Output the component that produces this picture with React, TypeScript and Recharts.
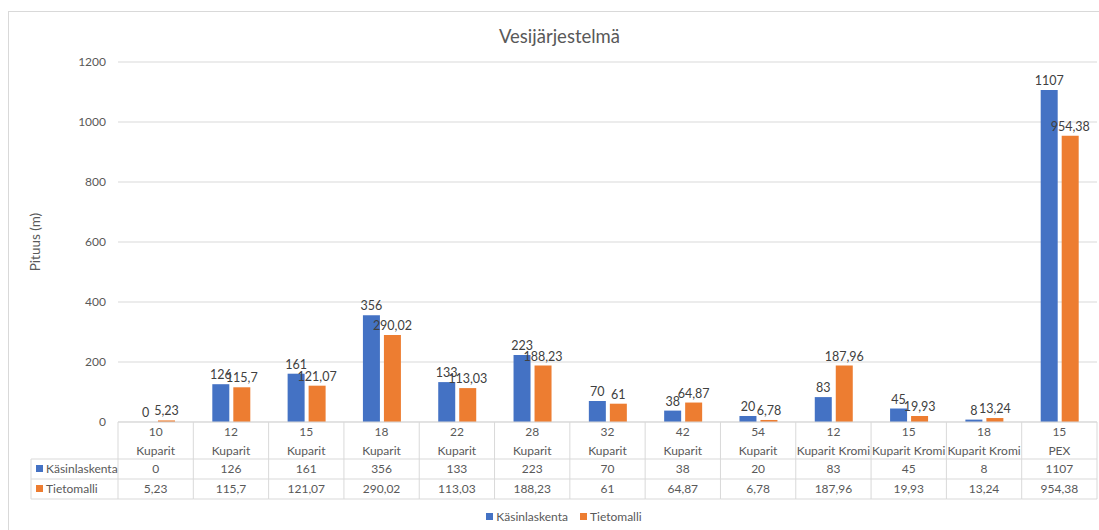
import React from 'react';
import { BarChart, Bar, XAxis, YAxis, CartesianGrid, LabelList, Legend } from 'recharts';

const sizes = ['10', '12', '15', '18', '22', '28', '32', '42', '54', '12', '15', '18', '15'];
const materials = ['Kuparit', 'Kuparit', 'Kuparit', 'Kuparit', 'Kuparit', 'Kuparit', 'Kuparit', 'Kuparit', 'Kuparit', 'Kuparit Kromi', 'Kuparit Kromi', 'Kuparit Kromi', 'PEX'];
const kasinlaskenta = [0, 126, 161, 356, 133, 223, 70, 38, 20, 83, 45, 8, 1107];
const tietomalli = [5.23, 115.7, 121.07, 290.02, 113.03, 188.23, 61, 64.87, 6.78, 187.96, 19.93, 13.24, 954.38];
const yTicks = [0, 200, 400, 600, 800, 1000, 1200];
const seriesNames = ['Käsinlaskenta', 'Tietomalli'];
const seriesColors = ['#4472C4', '#ED7D31'];
const title = 'Vesijärjestelmä';
const yLabel = 'Pituus (m)';

const data = sizes.map((s, i) => ({
  key: 'c' + i,
  size: s,
  material: materials[i],
  k: kasinlaskenta[i],
  t: tietomalli[i],
}));

const W = 1099;
const H = 530;
const M = { top: 62, right: 2, bottom: 0, left: 31 };
const Y_W = 87;
const X_H = 77;
const COL_W = (W - M.left - M.right - Y_W) / sizes.length;
const GRID = '#d9d9d9';
const TXT = '#595959';
const FONT = 'Lato, "Noto Sans", sans-serif';

const fmt = (v: any) => String(v).replace('.', ',');

function TableTick(props: any) {
  const { x, y, payload } = props;
  const i = props.index ?? payload.index;
  const left = x - COL_W / 2;
  const right = x + COL_W / 2;
  const last = i === sizes.length - 1;
  const vals = [kasinlaskenta[i], tietomalli[i]];
  return (
    <g>
      <line x1={left} y1={y} x2={left} y2={y + X_H} stroke={GRID} />
      {last && <line x1={right} y1={y} x2={right} y2={y + X_H} stroke={GRID} />}
      <line x1={left} y1={y + 37} x2={right} y2={y + 37} stroke={GRID} />
      <line x1={left} y1={y + 57} x2={right} y2={y + 57} stroke={GRID} />
      <line x1={left} y1={y + X_H} x2={right} y2={y + X_H} stroke={GRID} />
      <text x={x} y={y + 10} dy="0.35em" textAnchor="middle" fill={TXT} fontSize={12} fontFamily={FONT}>{sizes[i]}</text>
      <text x={x} y={y + 29} dy="0.35em" textAnchor="middle" fill={TXT} fontSize={12} fontFamily={FONT}>{materials[i]}</text>
      <text x={x} y={y + 47} dy="0.35em" textAnchor="middle" fill={TXT} fontSize={12} fontFamily={FONT}>{fmt(vals[0])}</text>
      <text x={x} y={y + 67} dy="0.35em" textAnchor="middle" fill={TXT} fontSize={12} fontFamily={FONT}>{fmt(vals[1])}</text>
      {i === 0 && (
        <g>
          <line x1={M.left} y1={y + 37} x2={left} y2={y + 37} stroke={GRID} />
          <line x1={M.left} y1={y + 57} x2={left} y2={y + 57} stroke={GRID} />
          <line x1={M.left} y1={y + X_H} x2={left} y2={y + X_H} stroke={GRID} />
          <line x1={M.left} y1={y + 37} x2={M.left} y2={y + X_H} stroke={GRID} />
          {seriesNames.map((n, si) => (
            <g key={n}>
              <rect x={M.left + 5} y={y + 43 + si * 20} width={7} height={7} fill={seriesColors[si]} />
              <text x={M.left + 15} y={y + 47 + si * 20} dy="0.35em" fill={TXT} fontSize={12} fontFamily={FONT}>{n}</text>
            </g>
          ))}
        </g>
      )}
    </g>
  );
}

function LegendContent() {
  return (
    <div style={{ display: 'flex', justifyContent: 'center', alignItems: 'center', height: 31, paddingTop: 4, boxSizing: 'border-box', fontFamily: FONT, fontSize: 12, color: TXT }}>
      {seriesNames.map((n, si) => (
        <div key={n} style={{ display: 'flex', alignItems: 'center', marginRight: si === 0 ? 12 : 0 }}>
          <div style={{ width: 7, height: 7, background: seriesColors[si], marginRight: 3 }} />
          <span>{n}</span>
        </div>
      ))}
    </div>
  );
}

const zeroMin = (v: any) => (v === 0 ? 0.01 : 0);

export default function App() {
  return (
    <div style={{ position: 'absolute', left: 0, top: 0, width: W, height: H, overflow: 'hidden', background: '#fff' }}>
      <div style={{ position: 'absolute', left: 8, top: 11, width: 1200, height: 700, border: `1px solid ${GRID}` }} />
      <div style={{ position: 'absolute', left: 0, top: 24, width: 1119, textAlign: 'center', fontFamily: FONT, fontSize: 18.5, color: TXT, lineHeight: '24px' }}>{title}</div>
      <div style={{ position: 'absolute', left: 0, top: 0 }}>
        <BarChart width={W} height={H} data={data} margin={M} barCategoryGap={19} barGap={4} style={{ fontFamily: FONT }}>
          <CartesianGrid vertical={false} stroke={GRID} />
          <XAxis
            dataKey="key"
            height={X_H}
            interval={0}
            tickSize={0}
            tickMargin={0}
            tickLine={false}
            axisLine={{ stroke: GRID }}
            tick={<TableTick />}
          />
          <YAxis
            width={Y_W}
            domain={[0, 1200]}
            ticks={yTicks}
            axisLine={false}
            tickLine={false}
            tickSize={0}
            tickMargin={12}
            tick={{ fill: TXT, fontSize: 12, fontFamily: FONT }}
            label={{ value: yLabel, angle: -90, position: 'insideLeft', offset: 4, style: { textAnchor: 'middle', fill: TXT, fontSize: 13.5, fontFamily: FONT } }}
          />
          <Legend verticalAlign="bottom" height={31} content={<LegendContent />} />
          <Bar dataKey="k" name={seriesNames[0]} fill={seriesColors[0]} barSize={17} minPointSize={zeroMin} isAnimationActive={false}>
            <LabelList dataKey="k" position="top" formatter={fmt} fill="#404040" fontSize={12.5} fontFamily={FONT} />
          </Bar>
          <Bar dataKey="t" name={seriesNames[1]} fill={seriesColors[1]} barSize={17} isAnimationActive={false}>
            <LabelList dataKey="t" position="top" formatter={fmt} fill="#404040" fontSize={12.5} fontFamily={FONT} />
          </Bar>
        </BarChart>
      </div>
    </div>
  );
}
